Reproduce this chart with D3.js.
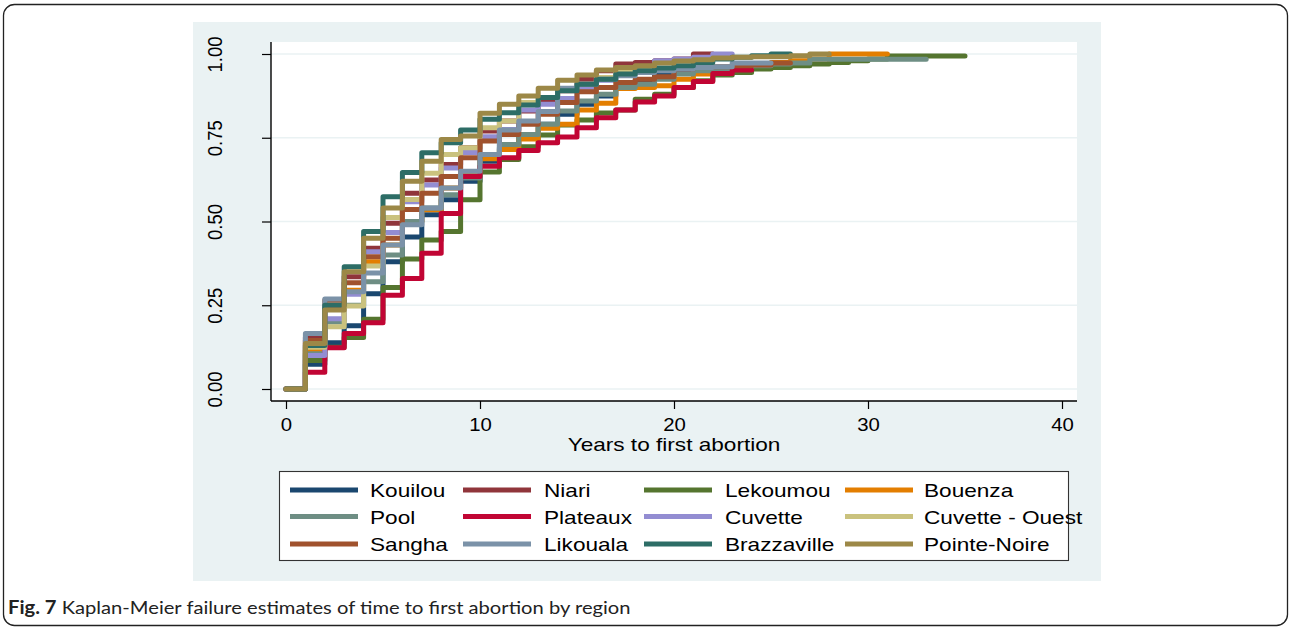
<!DOCTYPE html>
<html>
<head>
<meta charset="utf-8">
<script src="https://cdn.jsdelivr.net/npm/d3@7/dist/d3.min.js"></script>
<style>
  html, body { margin: 0; padding: 0; background: #fff; }
  svg { display: block; }
</style>
</head>
<body>
<svg id="chart" width="1290" height="628"></svg>
<script>
// ---------- data (value of failure function from year i to year i+1) ----------
const regions = ["Kouilou","Niari","Lekoumou","Bouenza","Pool","Plateaux","Cuvette","Cuvette - Ouest","Sangha","Likouala","Brazzaville","Pointe-Noire"];
const colors  = ["#1a476f","#90353b","#55752f","#e37e00","#6e8e84","#c10534","#938dd2","#cac27e","#a0522d","#7b92a8","#2d6d66","#9c8847"];

const kouilou      = [0,.074,.138,.189,.284,.38,.454,.52,.565,.62,.68,.72,.76,.79,.82,.85,.875,.90,.92,.94,.95];
const niari        = [0,.154,.241,.335,.42,.495,.584,.624,.67,.72,.77,.80,.83,.86,.89,.925,.95,.97,.975,.98,.985,1.0];
const lekoumou     = [0,.085,.125,.154,.208,.303,.388,.445,.47,.565,.648,.685,.723,.758,.788,.803,.824,.833,.865,.88,.90,.92,.937,.945,.955,.96,.965,.97,.975,.98,.985,.994];
const bouenza      = [0,.116,.206,.295,.38,.43,.50,.535,.60,.645,.687,.715,.746,.778,.79,.833,.853,.897,.90,.905,.925,.94,.952,.96,.97,.975,.98,.985,1.0];
const pool         = [0,.105,.20,.25,.32,.40,.50,.54,.58,.63,.70,.73,.76,.79,.83,.86,.88,.90,.91,.925,.94,.95,.955,.96,.965,.97,.973,.984];
const plateaux     = [0,.05,.123,.166,.198,.28,.33,.405,.524,.634,.665,.69,.712,.735,.752,.78,.81,.833,.857,.875,.90,.918,.942,.952];
const cuvette      = [0,.10,.21,.283,.41,.467,.559,.609,.66,.706,.753,.775,.833,.85,.867,.897,.922,.94,.96,.98,.985,.99,1.0];
const cuvetteOuest = [0,.125,.186,.248,.367,.512,.566,.644,.70,.72,.78,.80,.855,.87,.893,.91,.93,.945,.955];
const sangha       = [0,.145,.265,.317,.395,.45,.536,.584,.634,.69,.74,.76,.79,.82,.855,.887,.90,.915,.925,.932,.955,.96,.962,.965,.967,.973];
const likouala     = [0,.166,.269,.29,.346,.43,.49,.54,.60,.65,.70,.773,.80,.828,.898,.91,.925,.935,.945,.95,.955,.96,.962,.973];
const brazzaville  = [0,.13,.25,.365,.47,.574,.646,.705,.735,.773,.805,.825,.848,.87,.89,.91,.925,.94,.95,.958,.965,.975,.985,.99,.995,1.0];
const pointeNoire  = [0,.136,.236,.35,.45,.54,.62,.68,.745,.755,.823,.85,.875,.898,.922,.937,.952,.96,.965,.973,.979,.983,.988,.99,.992,.992,.995,1.0];

const seriesValues = [kouilou,niari,lekoumou,bouenza,pool,plateaux,cuvette,cuvetteOuest,sangha,likouala,brazzaville,pointeNoire];
const endYears     = [21,22,35,31,33,24,23,19,26,25,26,28];

const yTicks = [0, 0.25, 0.5, 0.75, 1];
const xTicks = [0, 10, 20, 30, 40];
const xTitle = "Years to first abortion";
const captionBold = "Fig. 7";
const captionText = " Kaplan-Meier failure estimates of time to first abortion by region";

// ---------- layout ----------
const svg = d3.select("#chart");
const FONT = "'Liberation Sans', Arial, Helvetica, sans-serif";
const SX = 1.19;            // horizontal stretch of the reference's text
const plot = {left: 271, right: 1077, top: 42, bottom: 401};

// outer frame
svg.append("rect").attr("x", 3.5).attr("y", 4.5).attr("width", 1284).attr("height", 621)
  .attr("rx", 11).attr("fill", "#fff").attr("stroke", "#222").attr("stroke-width", 1.3);

// graph region
svg.append("rect").attr("x", 193).attr("y", 22).attr("width", 908).attr("height", 559).attr("fill", "#eaf2f3");
// plot region
svg.append("rect").attr("x", plot.left).attr("y", plot.top)
  .attr("width", plot.right - plot.left).attr("height", plot.bottom - plot.top).attr("fill", "#fff");

const x = d3.scaleLinear().domain([0, 40]).range([286, 1062]);
const y = d3.scaleLinear().domain([0, 1]).range([389, 54]);

// gridlines
svg.append("g").selectAll("line").data(yTicks).join("line")
  .attr("x1", plot.left).attr("x2", plot.right)
  .attr("y1", d => y(d)).attr("y2", d => y(d))
  .attr("stroke", "#eaf2f3").attr("stroke-width", 1.6);

// curves
const line = d3.line().x(d => x(d[0])).y(d => y(d[1])).curve(d3.curveStepAfter);
const gCurves = svg.append("g");
seriesValues.forEach((vals, i) => {
  const pts = vals.map((v, t) => [t, v]);
  pts.push([endYears[i], vals[vals.length - 1]]);
  gCurves.append("path").attr("d", line(pts))
    .attr("fill", "none").attr("stroke", colors[i]).attr("stroke-width", 5)
    .attr("stroke-linejoin", "round").attr("stroke-linecap", "round");
});

// y axis
const yAxis = svg.append("g").attr("transform", `translate(${plot.left},0)`)
  .call(d3.axisLeft(y).tickValues(yTicks).tickFormat(d3.format(".2f")).tickSize(9).tickSizeOuter(0));
yAxis.select(".domain").remove();
yAxis.selectAll(".tick line").attr("stroke", "#000").attr("stroke-width", 1.2);
yAxis.selectAll(".tick text")
  .attr("x", 0).attr("dy", "0.36em")
  .attr("transform", "translate(-56,0) rotate(-90) scale(1,1.12)")
  .attr("text-anchor", "middle")
  .style("font-family", FONT).style("font-size", "18.5px").attr("fill", "#000");
svg.append("line").attr("x1", plot.left).attr("x2", plot.left).attr("y1", plot.top).attr("y2", plot.bottom)
  .attr("stroke", "#000").attr("stroke-width", 1.4);

// x axis
const xAxis = svg.append("g").attr("transform", `translate(0,${plot.bottom})`)
  .call(d3.axisBottom(x).tickValues(xTicks).tickFormat(d3.format("d")).tickSize(8).tickSizeOuter(0));
xAxis.select(".domain").remove();
xAxis.selectAll(".tick line").attr("stroke", "#000").attr("stroke-width", 1.2);
xAxis.selectAll(".tick text").attr("y", 0).attr("dy", 0)
  .attr("transform", "translate(0,30) scale(1.1,1)")
  .style("font-family", FONT).style("font-size", "18.5px").attr("fill", "#000");
svg.append("line").attr("x1", plot.left).attr("x2", plot.right).attr("y1", plot.bottom).attr("y2", plot.bottom)
  .attr("stroke", "#000").attr("stroke-width", 1.4);

svg.append("text").attr("transform", `translate(${(plot.left + plot.right) / 2},451) scale(${SX},1)`)
  .attr("text-anchor", "middle").style("font-family", FONT).style("font-size", "19px").text(xTitle);

// legend
svg.append("rect").attr("x", 279.5).attr("y", 471.5).attr("width", 789).attr("height", 89)
  .attr("fill", "#fff").attr("stroke", "#333").attr("stroke-width", 1.1);
const colLine = [290, 463, 644, 845];
const colText = [370, 544, 725, 924];
const rowY = [490, 516.5, 544];
regions.forEach((name, i) => {
  const c = i % 4, r = Math.floor(i / 4);
  svg.append("line").attr("x1", colLine[c]).attr("x2", colLine[c] + 68)
    .attr("y1", rowY[r]).attr("y2", rowY[r])
    .attr("stroke", colors[i]).attr("stroke-width", 5);
  svg.append("text").attr("transform", `translate(${colText[c]},${rowY[r] + 7}) scale(${SX},1)`)
    .style("font-family", FONT).style("font-size", "19px").attr("fill", "#000").text(name);
});

// caption
const cap = svg.append("text").attr("transform", "translate(8,614) scale(1.12,1)")
  .style("font-family", "Lato, 'Open Sans', sans-serif").style("font-size", "18px").attr("fill", "#222");
cap.append("tspan").style("font-weight", "bold").text(captionBold);
cap.append("tspan").text(captionText);
</script>
</body>
</html>
